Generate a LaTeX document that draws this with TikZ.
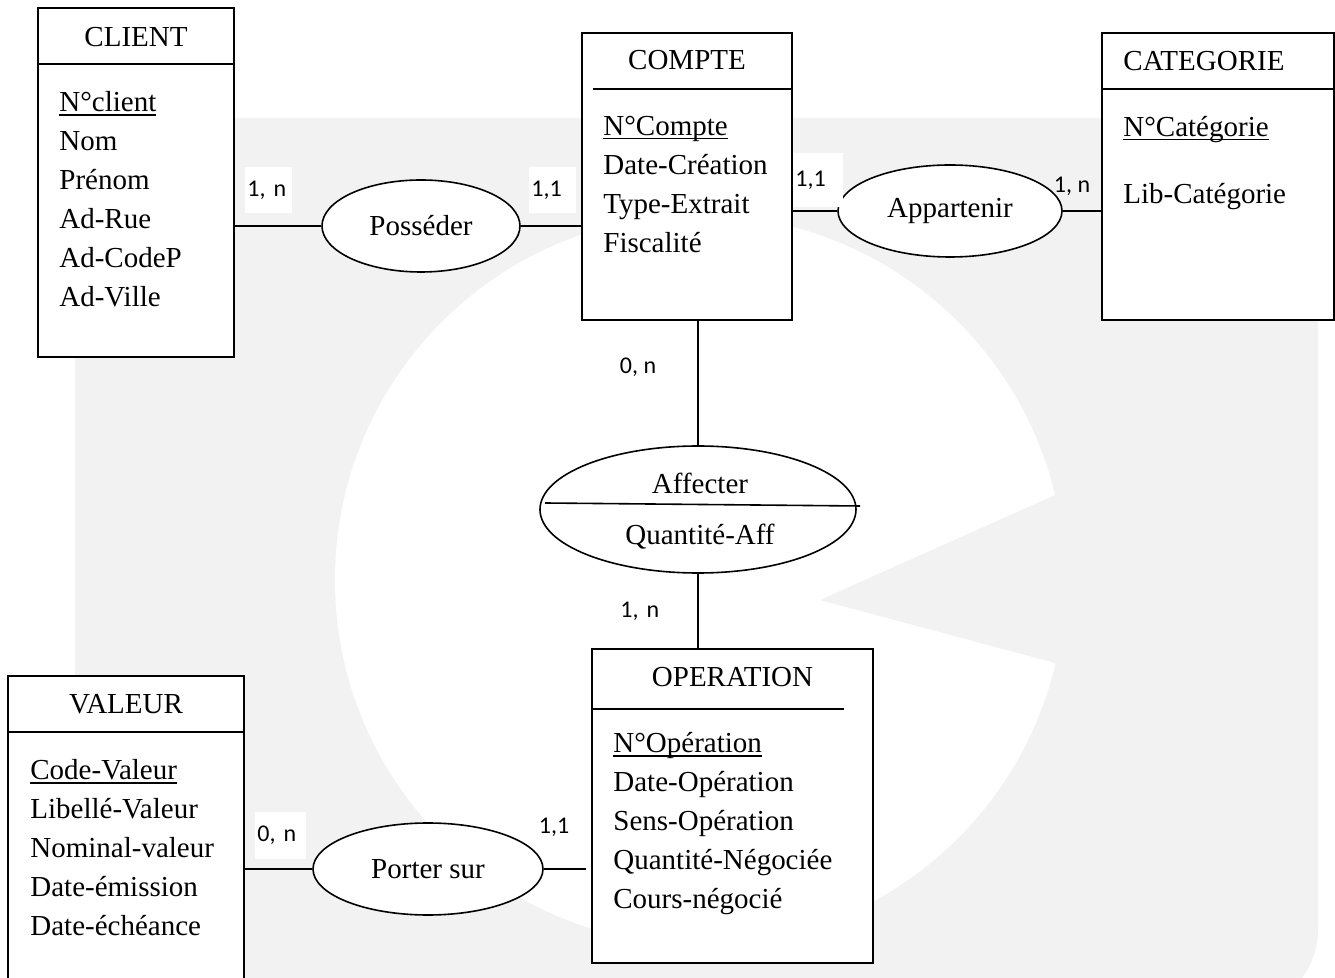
\documentclass[tikz,border=0pt]{standalone}
\usepackage{fontspec}
\setmainfont{Liberation Serif}
\newfontfamily\cardfont{Carlito}
\usetikzlibrary{shapes.geometric}

\definecolor{wmgray}{RGB}{242,242,242}

% identifiant souligne a hauteur fixe
\newcommand\attrkey[1]{\setbox0\hbox{#1}\rlap{\rule[-2pt]{\wd0}{0.6pt}}\box0}

\tikzset{
  entity/.style={draw, line width=1pt, fill=white, inner sep=0pt},
  assoc/.style={ellipse, draw, line width=0.8pt, fill=white, inner sep=0pt,
    font=\fontsize{14.5}{17}\selectfont},
  etitle/.style={inner sep=0pt, font=\fontsize{14.5}{17}\selectfont},
  attrs/.style={anchor=north west, align=left, inner sep=0pt,
    font=\fontsize{14.5}{19.5}\selectfont},
  card/.style={inner sep=0pt, font=\cardfont\fontsize{12}{14}\selectfont},
  cardbox/.style={card, fill=white, anchor=west, align=left, inner xsep=1pt,
    minimum height=23pt},
  link/.style={line width=0.8pt},
}

\begin{document}
\begin{tikzpicture}[x=0.5pt, y=-0.5pt]
    \clip (0,0) rectangle (1335,978);
    \fill[white] (0,0) rectangle (1335,978);

    % filigrane
    \fill[wmgray, rounded corners=40pt] (75,118) rectangle (1318,1010);
    \fill[white] (700,580) circle[radius=182.5pt];
    \fill[wmgray] (820,600) -- (1100,475) -- (1100,675) -- cycle;

    % CLIENT
    \node[entity, minimum width=98pt, minimum height=174.5pt] (client) at (136,182.5) {};
    \draw[line width=1pt] (client.west |- 0,64) -- (client.east |- 0,64);
    \node[etitle] (clientT) at (136,37) {CLIENT};
    \node[attrs] (clientA) at (59,91) {\attrkey{N°client}\\Nom\\Prénom\\Ad-Rue\\Ad-CodeP\\Ad-Ville};

    % COMPTE
    \node[entity, minimum width=105pt, minimum height=143.5pt] (compte) at (687,176.5) {};
    \draw[line width=1pt] (593,89) -- (compte.east |- 0,89);
    \node[etitle] (compteT) at (687,60) {COMPTE};
    \node[attrs] (compteA) at (603,115.5) {\attrkey{N°Compte}\\Date-Création\\Type-Extrait\\Fiscalité};

    % CATEGORIE
    \node[entity, minimum width=116pt, minimum height=143.5pt] (categorie) at (1218,176.5) {};
    \draw[line width=1pt] (categorie.west |- 0,89) -- (categorie.east |- 0,89);
    \node[etitle, anchor=west] (categorieT) at (1123,61) {CATEGORIE};
    \node[attrs] (categorieA) at (1123,115.5) {\attrkey{N°Catégorie}\\[14pt]Lib-Catégorie};

    % OPERATION
    \node[entity, minimum width=140.5pt, minimum height=157pt] (operation) at (732.5,806) {};
    \draw[line width=1pt] (operation.west |- 0,709) -- (844,709);
    \node[etitle] (operationT) at (732.5,677) {OPERATION};
    \node[attrs] (operationA) at (613,732) {\attrkey{N°Opération}\\Date-Opération\\Sens-Opération\\Quantité-Négociée\\Cours-négocié};

    % VALEUR
    \node[entity, minimum width=118pt, minimum height=162pt] (valeur) at (126,838) {};
    \draw[line width=1pt] (valeur.west |- 0,732) -- (valeur.east |- 0,732);
    \node[etitle] (valeurT) at (126,704) {VALEUR};
    \node[attrs] (valeurA) at (30,759) {\attrkey{Code-Valeur}\\Libellé-Valeur\\Nominal-valeur\\Date-émission\\Date-échéance};

    % associations
    \node[assoc, minimum width=99pt, minimum height=46pt] (posseder) at (421,226) {Posséder};
    \node[assoc, minimum width=112pt, minimum height=46pt] (appartenir) at (950,211) {Appartenir};
    \node[assoc, minimum width=158pt, minimum height=63.5pt] (affecter) at (698,509.5) {};
    \draw[line width=0.8pt] (545,503) -- (860,506);
    \node[etitle] (affecterT) at (700,483) {Affecter};
    \node[etitle] (affecterQ) at (700,537) {Quantité-Aff};
    \node[assoc, minimum width=115pt, minimum height=46pt] (porter) at (428,869) {Porter sur};

    % liens
    \draw[link] (client.east |- posseder) -- (posseder.west);
    \draw[link] (posseder.east) -- (posseder.east -| compte.west);
    \draw[link] (compte.east |- appartenir) -- (appartenir.west);
    \draw[link] (appartenir.east) -- (appartenir.east -| categorie.west);
    \draw[link] (affecter.north |- compte.south) -- (affecter.north);
    \draw[link] (affecter.south) -- (affecter.south |- operation.north);
    \draw[link] (valeur.east |- porter) -- (porter.west);
    \coordinate (porterEnd) at (586,869);
    \draw[link] (porter.east) -- (porterEnd);

    % cardinalites
    \node[cardbox, text width=21.5pt] (cardClient) at (245,190) {1, n};
    \node[cardbox, text width=21.5pt] (cardComptePos) at (529,190) {1,1};
    \node[cardbox, text width=23pt, minimum height=27pt] (cardCompteApp) at (793,180) {1,1};
    \node[card] (cardCategorie) at (1072,186) {1, n};
    \node[card] (cardCompteAff) at (638,367) {0, n};
    \node[cardbox, text width=29pt] (cardOperationAff) at (618,611.5) {1, n};
    \node[cardbox, text width=23.5pt] (cardValeur) at (255,835.5) {0, n};
    \node[card] (cardOperationPor) at (554,827) {1,1};
\end{tikzpicture}
\end{document}
